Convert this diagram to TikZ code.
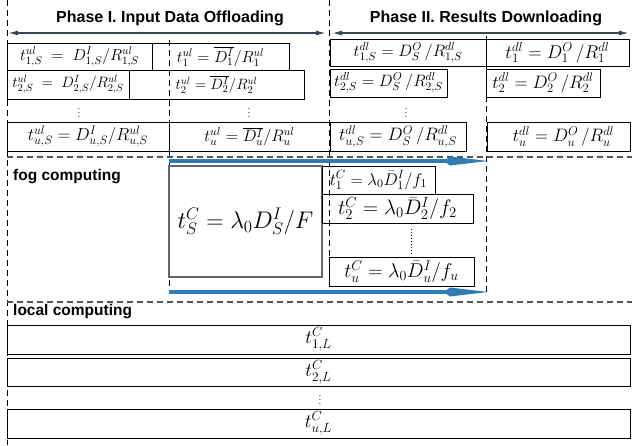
\RequirePackage{fix-cm}
\documentclass[tikz,border=0pt]{standalone}
\usepackage{fontspec}
\newfontfamily\hv{Liberation Sans}
\usetikzlibrary{arrows.meta}
\definecolor{arrowgray}{HTML}{3C474D}
\definecolor{fogblue}{HTML}{2F7DB5}
\definecolor{dashgray}{HTML}{555555}
\newcommand\fsz[1]{\fontsize{#1}{#1}\selectfont}
\begin{document}
\begin{tikzpicture}[x=1pt,y=-1pt,
  box/.style={draw=black, line width=0.7pt, inner sep=0pt, outer sep=0pt, anchor=north west},
  title/.style={font=\hv\bfseries\fsz{16}, inner sep=0pt},
  lab/.style={font=\hv\bfseries\fsz{15.5}, inner sep=0pt, anchor=west},
  phasearrow/.style={{Latex[length=11pt,width=5pt]}-{Latex[length=11pt,width=5pt]}, line width=1.8pt, draw=arrowgray},
  bluearrow/.style={-{Kite[length=44pt,width=9pt,inset=6pt]}, line width=4pt, draw=fogblue},
  vdash/.style={dash pattern=on 6pt off 4pt, line width=0.8pt, draw=black},
  hdash/.style={dash pattern=on 6pt off 4pt, line width=1.2pt, draw=dashgray},
  dotsnode/.style={font=\fsz{10}, inner sep=0pt}
]
\useasboundingbox (0,0) rectangle (632,445);

% guide lines
\coordinate (v0t) at (7,0);   \coordinate (v0b) at (7,445);
\coordinate (v1t) at (169,40); \coordinate (v1b) at (169,292);
\coordinate (v2t) at (329,0); \coordinate (v2b) at (329,292);
\coordinate (v3t) at (486,36); \coordinate (v3b) at (486,295);
\coordinate (h1l) at (7,157); \coordinate (h1r) at (632,157);
\coordinate (h2l) at (7,302); \coordinate (h2r) at (632,302);
\draw[vdash] (v0t) -- (v0b);
\draw[vdash] (v1t) -- (v1b);
\draw[vdash] (v2t) -- (v2b);
\draw[vdash] (v3t) -- (v3b);
\draw[hdash] (h1l) -- (h1r);
\draw[hdash] (h2l) -- (h2r);

% titles
\node[title] (t1) at (170,18) {Phase I. Input Data Offloading};
\node[title] (t2) at (486,18) {Phase II. Results Downloading};
\coordinate (p1l) at (7,33);  \coordinate (p1r) at (327,33);
\coordinate (p2l) at (331,33); \coordinate (p2r) at (630,33);
\draw[phasearrow] (p1l) -- (p1r);
\draw[phasearrow] (p2l) -- (p2r);

% Phase I boxes
\node[box, minimum width=145pt, minimum height=27pt, font=\fsz{16}] (a1) at (7,43) {$t^{ul}_{1,S}\;=\;D^{I}_{1,S}/R^{ul}_{1,S}$};
\node[box, minimum width=137pt, minimum height=27pt, font=\fsz{16}] (b1) at (152,43) {$t^{ul}_{1}=\overline{D^{I}_{1}}/R^{ul}_{1}$};
\node[box, minimum width=122pt, minimum height=29pt, font=\fsz{15}] (a2) at (7,70) {$t^{ul}_{2,S}\;=\;D^{I}_{2,S}/R^{ul}_{2,S}$};
\node[box, minimum width=175pt, minimum height=29pt, font=\fsz{15}] (b2) at (129,70) {$t^{ul}_{2}=\overline{D^{I}_{2}}/R^{ul}_{2}$};
\node[dotsnode] (da) at (79,110) {$\vdots$};
\node[dotsnode] (db) at (249,110) {$\vdots$};
\node[box, minimum width=162pt, minimum height=29pt, font=\fsz{17.5}] (au) at (7,122) {$t^{ul}_{u,S}=D^{I}_{u,S}/R^{ul}_{u,S}$\hspace{18pt}};
\node[box, minimum width=161pt, minimum height=29pt, font=\fsz{16.5}] (bu) at (169,122) {$t^{ul}_{u}=\overline{D^{I}_{u}}/R^{ul}_{u}$\hspace{6pt}};

% Phase II boxes
\node[box, minimum width=156pt, minimum height=27pt, font=\fsz{16.5}] (c1) at (330,39) {$t^{dl}_{1,S}=D^{O}_{S}\,/R^{dl}_{1,S}$};
\node[box, minimum width=143pt, minimum height=27pt, font=\fsz{18.5}] (d1) at (486,39) {$t^{dl}_{1}=D^{O}_{1}\,/R^{dl}_{1}$};
\node[box, minimum width=117pt, minimum height=28pt, font=\fsz{16.5}] (c2) at (330,69) {$t^{dl}_{2,S}=D^{O}_{S}\,/R^{dl}_{2,S}$};
\node[box, minimum width=114pt, minimum height=28pt, font=\fsz{18}] (d2) at (486,69) {$t^{dl}_{2}=D^{O}_{2}\,/R^{dl}_{2}$};
\node[dotsnode] (dc) at (406,110) {$\vdots$};
\node[box, minimum width=136pt, minimum height=29pt, font=\fsz{18}] (cu) at (330,122) {$t^{dl}_{u,S}=D^{O}_{S}\,/R^{dl}_{u,S}$};
\node[box, minimum width=143pt, minimum height=29pt, font=\fsz{18}] (du) at (487,122) {\hspace{10pt}$t^{dl}_{u}=D^{O}_{u}\,/R^{dl}_{u}$};

% fog computing
\node[lab] (fog) at (13,177) {fog computing};
\node[box, draw=black!60, line width=1.2pt, minimum width=153pt, minimum height=111pt, font=\fsz{24}] (s) at (169,166) {$t^{C}_{S}=\lambda_0 D^{I}_{S}/F$};
\node[box, minimum width=113pt, minimum height=28pt, font=\fsz{17}] (f1) at (322,166) {$t^{C}_{1}=\lambda_0\bar{D}^{I}_{1}/f_1$};
\node[box, minimum width=151pt, minimum height=29pt, font=\fsz{21}] (f2) at (322,194) {$t^{C}_{2}=\lambda_0\bar{D}^{I}_{2}/f_2$};
\coordinate (fdt) at (411,229); \coordinate (fdb) at (411,255);
\draw[dotted, line width=1pt] (fdt) -- (fdb);
\node[box, minimum width=145pt, minimum height=29pt, font=\fsz{20}] (fu) at (329,257) {$t^{C}_{u}=\lambda_0\bar{D}^{I}_{u}/f_u$};
\coordinate (b1s) at (169,161); \coordinate (b1e) at (488,161);
\coordinate (b2s) at (169,292); \coordinate (b2e) at (488,292);
\draw[bluearrow] (b1s) -- (b1e);
\draw[bluearrow] (b2s) -- (b2e);

% local computing
\node[lab] (loc) at (13,312) {local computing};
\node[box, minimum width=623pt, minimum height=29pt, font=\fsz{19}] (l1) at (7,325) {$t^{C}_{1,L}$};
\node[box, minimum width=623pt, minimum height=28pt, font=\fsz{19}] (l2) at (7,358) {$t^{C}_{2,L}$};
\node[dotsnode] (dl) at (320,397) {$\vdots$};
\node[box, minimum width=623pt, minimum height=29pt, font=\fsz{19}] (lu) at (7,409) {$t^{C}_{u,L}$};
\end{tikzpicture}
\end{document}
